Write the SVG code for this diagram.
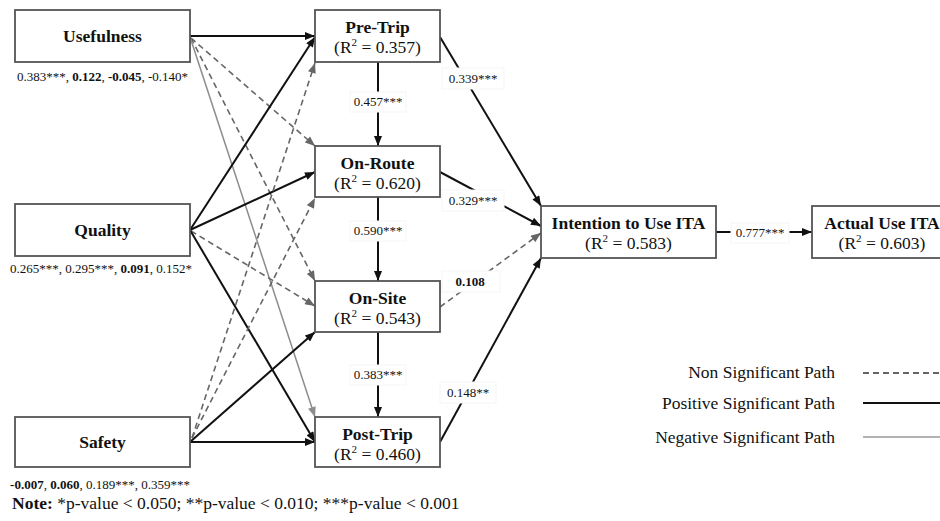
<svg xmlns="http://www.w3.org/2000/svg" width="940" height="521" viewBox="0 0 940 521">
<style>
text{font-family:"Liberation Serif","Times New Roman",serif;fill:#111}
.box{fill:#fff;stroke:#555;stroke-width:1.8}
.nm{font-size:17.5px;font-weight:bold;text-anchor:middle}
.r2{font-size:17.5px;text-anchor:middle}
.sup{font-size:11px}
.src{font-size:13px;text-anchor:middle}
.b{font-weight:bold}
.el{font-size:13px;text-anchor:middle}
.lb{fill:#fff;stroke:#f5f5f5;stroke-width:1}
.pos{stroke:#111;stroke-width:2;fill:none;marker-end:url(#ab)}
.ns{stroke:#666;stroke-width:1.6;stroke-dasharray:6 4;fill:none;marker-end:url(#ag)}
.neg{stroke:#8c8c8c;stroke-width:1.5;fill:none;marker-end:url(#an)}
.lg{font-size:17.5px;text-anchor:end}
.note{font-size:17.5px}
</style>
<defs>
<marker id="ab" viewBox="0 0 10 8" refX="10" refY="4" markerWidth="11" markerHeight="8" markerUnits="userSpaceOnUse" orient="auto"><path d="M0,0 L10,4 L0,8 z" fill="#111"/></marker>
<marker id="ag" viewBox="0 0 10 8" refX="10" refY="4" markerWidth="11" markerHeight="8" markerUnits="userSpaceOnUse" orient="auto"><path d="M0,0 L10,4 L0,8 z" fill="#666"/></marker>
<marker id="an" viewBox="0 0 10 8" refX="10" refY="4" markerWidth="11" markerHeight="8" markerUnits="userSpaceOnUse" orient="auto"><path d="M0,0 L10,4 L0,8 z" fill="#8c8c8c"/></marker>
</defs>
<rect width="940" height="521" fill="#fff"/>

<g id="connectors">
<line class="pos" x1="190" y1="36" x2="315" y2="36"/>
<line class="ns" x1="191" y1="38" x2="315" y2="146"/>
<line class="ns" x1="191" y1="38" x2="315" y2="281"/>
<line class="neg" x1="190" y1="37" x2="315" y2="417"/>
<line class="pos" x1="190" y1="230" x2="315" y2="37"/>
<line class="pos" x1="190" y1="230" x2="315" y2="172"/>
<line class="ns" x1="191" y1="231" x2="315" y2="306"/>
<line class="pos" x1="190" y1="230" x2="315" y2="442"/>
<line class="ns" x1="192" y1="438" x2="315" y2="63"/>
<line class="ns" x1="192" y1="438" x2="315" y2="198"/>
<line class="pos" x1="190" y1="442" x2="315" y2="332"/>
<line class="pos" x1="190" y1="442" x2="315" y2="442"/>
<line class="pos" x1="378" y1="62" x2="378" y2="146"/>
<line class="pos" x1="378" y1="197" x2="378" y2="281"/>
<line class="pos" x1="378" y1="332" x2="378" y2="417"/>
<line class="pos" x1="440" y1="37" x2="541" y2="206"/>
<line class="pos" x1="440" y1="172" x2="541" y2="226"/>
<line class="ns" x1="440" y1="307" x2="541" y2="233"/>
<line class="pos" x1="440" y1="442" x2="541" y2="258"/>
<line class="pos" x1="716" y1="232" x2="812" y2="232"/>

<rect class="lb" x="350" y="92" width="56" height="20"/>
<text class="el" x="378" y="106">0.457***</text>
<rect class="lb" x="350" y="221" width="56" height="20"/>
<text class="el" x="378" y="235">0.590***</text>
<rect class="lb" x="350" y="365" width="56" height="20"/>
<text class="el" x="378" y="379">0.383***</text>
<rect class="lb" x="442" y="68" width="62" height="21"/>
<text class="el" x="473" y="83">0.339***</text>
<rect class="lb" x="442" y="190" width="62" height="21"/>
<text class="el" x="473" y="205">0.329***</text>
<rect class="lb" x="442" y="271" width="58" height="21"/>
<text class="el b" x="470" y="286">0.108</text>
<rect class="lb" x="440" y="382" width="56" height="21"/>
<text class="el" x="468" y="397">0.148**</text>
<rect class="lb" x="731" y="223" width="58" height="20"/>
<text class="el" x="760" y="237">0.777***</text>
</g>

<g id="usefulness">
<rect class="box" x="15" y="10" width="175" height="52"/>
<text class="nm" x="102.5" y="42">Usefulness</text>
<text class="src" x="102.5" y="81">0.383***, <tspan class="b">0.122</tspan>, <tspan class="b">-0.045</tspan>, -0.140*</text>
</g>
<g id="quality">
<rect class="box" x="15" y="204" width="175" height="52"/>
<text class="nm" x="102.5" y="236">Quality</text>
<text class="src" x="101" y="273">0.265***, 0.295***, <tspan class="b">0.091</tspan>, 0.152*</text>
</g>
<g id="safety">
<rect class="box" x="15" y="417" width="175" height="50"/>
<text class="nm" x="102.5" y="448">Safety</text>
<text class="src" x="100" y="489"><tspan class="b">-0.007</tspan>, <tspan class="b">0.060</tspan>, 0.189***, 0.359***</text>
</g>
<g id="pre-trip">
<rect class="box" x="315" y="10" width="125" height="52"/>
<text class="nm" x="377.5" y="33">Pre-Trip</text>
<text class="r2" x="377.5" y="53">(R<tspan class="sup" dy="-7">2</tspan><tspan dy="7"> = 0.357)</tspan></text>
</g>
<g id="on-route">
<rect class="box" x="315" y="146" width="125" height="51"/>
<text class="nm" x="377.5" y="169">On-Route</text>
<text class="r2" x="377.5" y="189">(R<tspan class="sup" dy="-7">2</tspan><tspan dy="7"> = 0.620)</tspan></text>
</g>
<g id="on-site">
<rect class="box" x="315" y="281" width="125" height="51"/>
<text class="nm" x="377.5" y="304">On-Site</text>
<text class="r2" x="377.5" y="324">(R<tspan class="sup" dy="-7">2</tspan><tspan dy="7"> = 0.543)</tspan></text>
</g>
<g id="post-trip">
<rect class="box" x="315" y="417" width="125" height="50"/>
<text class="nm" x="377.5" y="440">Post-Trip</text>
<text class="r2" x="377.5" y="460">(R<tspan class="sup" dy="-7">2</tspan><tspan dy="7"> = 0.460)</tspan></text>
</g>
<g id="intention">
<rect class="box" x="541" y="206" width="175" height="52"/>
<text class="nm" x="628.5" y="229">Intention to Use ITA</text>
<text class="r2" x="628.5" y="249">(R<tspan class="sup" dy="-7">2</tspan><tspan dy="7"> = 0.583)</tspan></text>
</g>
<g id="actual-use">
<rect class="box" x="812" y="206" width="140" height="52"/>
<text class="nm" x="882" y="229">Actual Use ITA</text>
<text class="r2" x="882" y="249">(R<tspan class="sup" dy="-7">2</tspan><tspan dy="7"> = 0.603)</tspan></text>
</g>

<g id="legend">
<text class="lg" x="835" y="378">Non Significant Path</text>
<text class="lg" x="835" y="409">Positive Significant Path</text>
<text class="lg" x="835" y="443">Negative Significant Path</text>
<line x1="863" y1="373" x2="950" y2="373" stroke="#333" stroke-width="1.3" stroke-dasharray="6 4"/>
<line x1="863" y1="403" x2="950" y2="403" stroke="#111" stroke-width="2"/>
<line x1="863" y1="437" x2="950" y2="437" stroke="#999" stroke-width="1.5"/>
</g>

<g id="note">
<text class="note" x="12" y="509"><tspan class="b">Note:</tspan> *p-value &lt; 0.050; **p-value &lt; 0.010; ***p-value &lt; 0.001</text>
</g>
</svg>
